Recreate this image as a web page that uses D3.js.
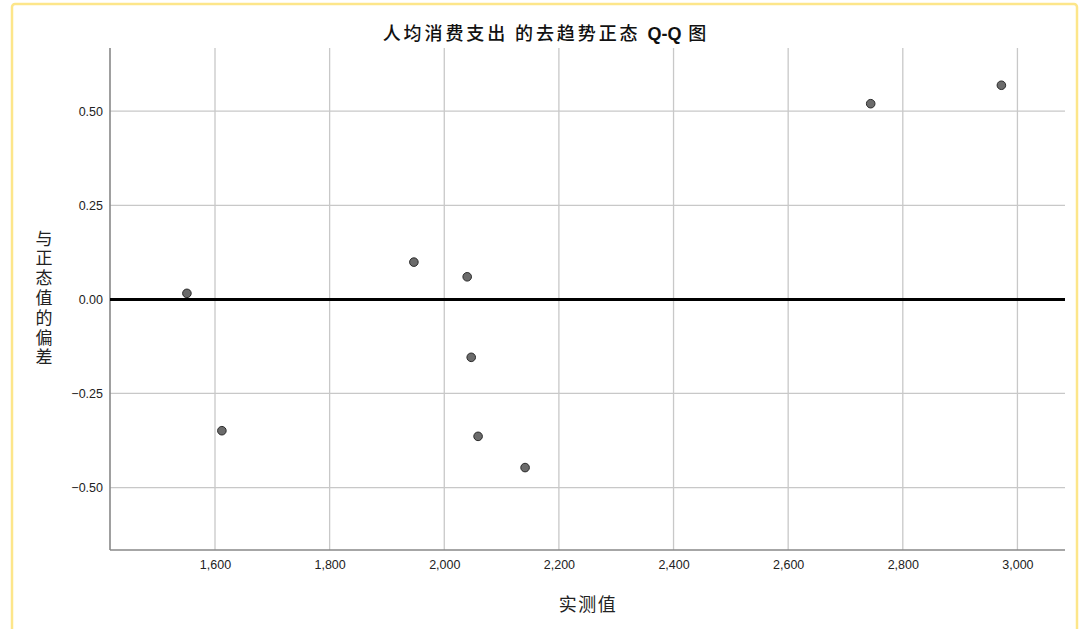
<!DOCTYPE html>
<html><head><meta charset="utf-8">
<script src="https://cdn.jsdelivr.net/npm/d3@7"></script>
<style>html,body{margin:0;padding:0;background:#fff;}svg{display:block;}</style>
</head><body>
<svg id="c" width="1086" height="629"></svg>
<script>
const titleParts = ["人均消费支出 的去趋势正态 ", "Q-Q", " 图"];
const xLabel = "实测值";
const yLabel = "与正态值的偏差";
const observed = [1551, 1612, 1947, 2040, 2047, 2059, 2141, 2744, 2972];
const deviation = [0.016, -0.349, 0.099, 0.060, -0.154, -0.364, -0.447, 0.520, 0.569];
const xTicks = [1600, 1800, 2000, 2200, 2400, 2600, 2800, 3000];
const yTicks = [-0.50, -0.25, 0.00, 0.25, 0.50];

const svg = d3.select("#c");
const L = 110, R = 1065, T = 48, B = 550;
const x = d3.scaleLinear().domain([1416.8, 3083]).range([L, R]);
const y = d3.scaleLinear().domain([-0.666, 0.668]).range([B, T]);

// frame
svg.append("rect").attr("x", 12).attr("y", 4).attr("width", 1065).attr("height", 650)
  .attr("rx", 3).attr("fill", "#fff").attr("stroke", "#fde68a").attr("stroke-width", 2.5);

// grid
svg.append("g").selectAll("line").data(xTicks).join("line")
  .attr("x1", d => x(d)).attr("x2", d => x(d)).attr("y1", T).attr("y2", B)
  .attr("stroke", "#c8c8c8").attr("stroke-width", 1.3);
svg.append("g").selectAll("line").data(yTicks.filter(d => d !== 0)).join("line")
  .attr("x1", L).attr("x2", R).attr("y1", d => y(d)).attr("y2", d => y(d))
  .attr("stroke", "#c8c8c8").attr("stroke-width", 1.3);

// axes
const xAxis = d3.axisBottom(x).tickValues(xTicks).tickFormat(d3.format(",")).tickSize(0).tickPadding(10);
const gx = svg.append("g").attr("transform", `translate(0,${B})`).call(xAxis);
gx.select(".domain").attr("stroke", "#888").attr("stroke-width", 1.6).attr("d", `M${L},0H${R}`);
gx.selectAll("text").attr("font-family", "Liberation Sans, Arial, sans-serif").attr("font-size", 12.5).attr("fill", "#222");

const yAxis = d3.axisLeft(y).tickValues(yTicks).tickFormat(d3.format(".2f")).tickSize(0).tickPadding(7);
const gy = svg.append("g").attr("transform", `translate(${L},0)`).call(yAxis);
gy.select(".domain").attr("stroke", "#888").attr("stroke-width", 1.6).attr("d", `M0,${T}V${B}`);
gy.selectAll("text").attr("font-family", "Liberation Sans, Arial, sans-serif").attr("font-size", 12.5).attr("fill", "#222");

// zero reference line
svg.append("line").attr("x1", L).attr("x2", R).attr("y1", y(0)).attr("y2", y(0))
  .attr("stroke", "#000").attr("stroke-width", 3);

// points
svg.append("g").selectAll("circle").data(observed.map((v, i) => [v, deviation[i]])).join("circle")
  .attr("cx", d => x(d[0])).attr("cy", d => y(d[1])).attr("r", 4.3)
  .attr("fill", "#6b6b6b").attr("stroke", "#2a2a2a").attr("stroke-width", 1);

// title
const tt = svg.append("text").attr("x", 546).attr("y", 40).attr("text-anchor", "middle")
  .attr("font-family", "Noto Sans CJK SC, Liberation Sans, sans-serif").attr("font-size", 18)
  .attr("font-weight", 500).attr("fill", "#111");
tt.selectAll("tspan").data(titleParts).join("tspan")
  .style("letter-spacing", (d, i) => i === 1 ? "0px" : "2.9px")
  .attr("font-family", (d, i) => i === 1 ? "Liberation Sans, Arial, sans-serif" : null)
  .attr("font-weight", (d, i) => i === 1 ? 700 : null)
  .text(d => d);

// x label
svg.append("text").attr("x", 588).attr("y", 611).attr("text-anchor", "middle")
  .attr("font-family", "Noto Sans CJK SC, sans-serif").attr("font-size", 18)
  .style("letter-spacing", "1.5px")
  .attr("fill", "#222").text(xLabel);

// y label (vertical)
svg.append("text").attr("x", 44).attr("y", 299).attr("text-anchor", "middle")
  .attr("writing-mode", "vertical-rl").style("letter-spacing", "2.8px")
  .attr("font-family", "Noto Sans CJK SC, sans-serif").attr("font-size", 17).attr("fill", "#222")
  .text(yLabel);
</script>
</body></html>
